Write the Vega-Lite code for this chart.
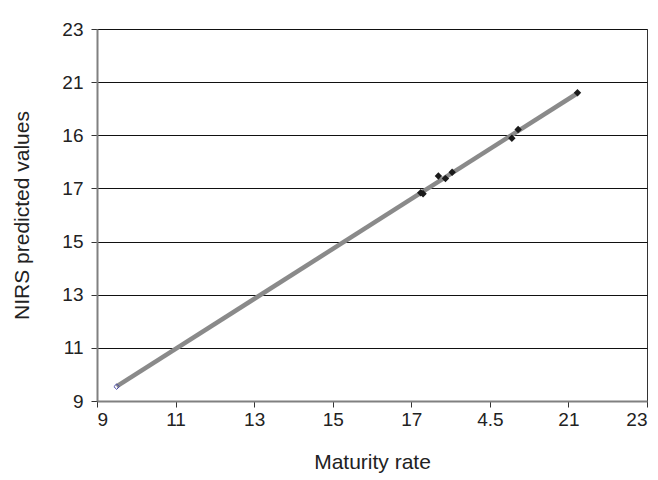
{
  "$schema": "https://vega.github.io/schema/vega-lite/v6.json",
  "width": 550,
  "height": 372,
  "autosize": "none",
  "padding": {"left": 97, "top": 29, "right": 11, "bottom": 79},
  "background": "white",
  "config": {
    "view": {"stroke": "#333333", "strokeWidth": 1},
    "font": "Liberation Sans"
  },
  "datasets": {
    "fit": [
      {"maturity": 9.5, "nirs": 9.55},
      {"maturity": 21.25, "nirs": 20.6}
    ],
    "obs": [
      {"maturity": 17.24, "nirs": 16.84},
      {"maturity": 17.3, "nirs": 16.8},
      {"maturity": 17.69, "nirs": 17.47},
      {"maturity": 17.87, "nirs": 17.37},
      {"maturity": 18.04, "nirs": 17.61},
      {"maturity": 19.56, "nirs": 18.89},
      {"maturity": 19.72, "nirs": 19.22},
      {"maturity": 21.23, "nirs": 20.6}
    ],
    "first": [
      {"maturity": 9.5, "nirs": 9.54}
    ]
  },
  "encoding": {
    "x": {
      "field": "maturity", "type": "quantitative",
      "scale": {"domain": [9, 23], "nice": false, "zero": false},
      "axis": {
        "title": "Maturity rate",
        "values": [9, 11, 13, 15, 17, 19, 21, 23],
        "labelExpr": "datum.value == 19 ? '4.5' : datum.label",
        "grid": false,
        "domainColor": "#808080", "domainWidth": 2,
        "tickColor": "#333333", "tickSize": 6, "tickWidth": 1,
        "labelFontSize": 19, "labelColor": "#222222", "labelPadding": 3,
        "labelFont": "Liberation Sans",
        "titleFontSize": 21, "titleFontWeight": "normal", "titleColor": "#222222",
        "titleFont": "Liberation Sans",
        "titleY": 61, "titleBaseline": "middle"
      }
    },
    "y": {
      "field": "nirs", "type": "quantitative",
      "scale": {"domain": [9, 23], "nice": false, "zero": false},
      "axis": {
        "title": "NIRS predicted values",
        "values": [9, 11, 13, 15, 17, 19, 21, 23],
        "labelExpr": "datum.value == 19 ? '16' : datum.label",
        "grid": true, "gridColor": "#111111", "gridWidth": 1, "gridOpacity": 1,
        "domainColor": "#808080", "domainWidth": 2,
        "tickColor": "#333333", "tickSize": 6, "tickWidth": 1,
        "labelFontSize": 19, "labelColor": "#222222", "labelPadding": 8,
        "labelFont": "Liberation Sans",
        "titleFontSize": 21, "titleFontWeight": "normal", "titleColor": "#222222",
        "titleFont": "Liberation Sans",
        "titleX": -75, "titleBaseline": "middle"
      }
    }
  },
  "layer": [
    {
      "data": {"name": "fit"},
      "mark": {"type": "line", "color": "#8a8a8a", "strokeWidth": 4.5}
    },
    {
      "data": {"name": "first"},
      "mark": {"type": "point", "shape": "diamond", "filled": false, "stroke": "#4a4aa8", "strokeWidth": 1, "size": 30, "opacity": 1}
    },
    {
      "data": {"name": "obs"},
      "mark": {"type": "point", "shape": "diamond", "filled": true, "color": "#1a1a1a", "size": 55, "opacity": 1}
    }
  ]
}
